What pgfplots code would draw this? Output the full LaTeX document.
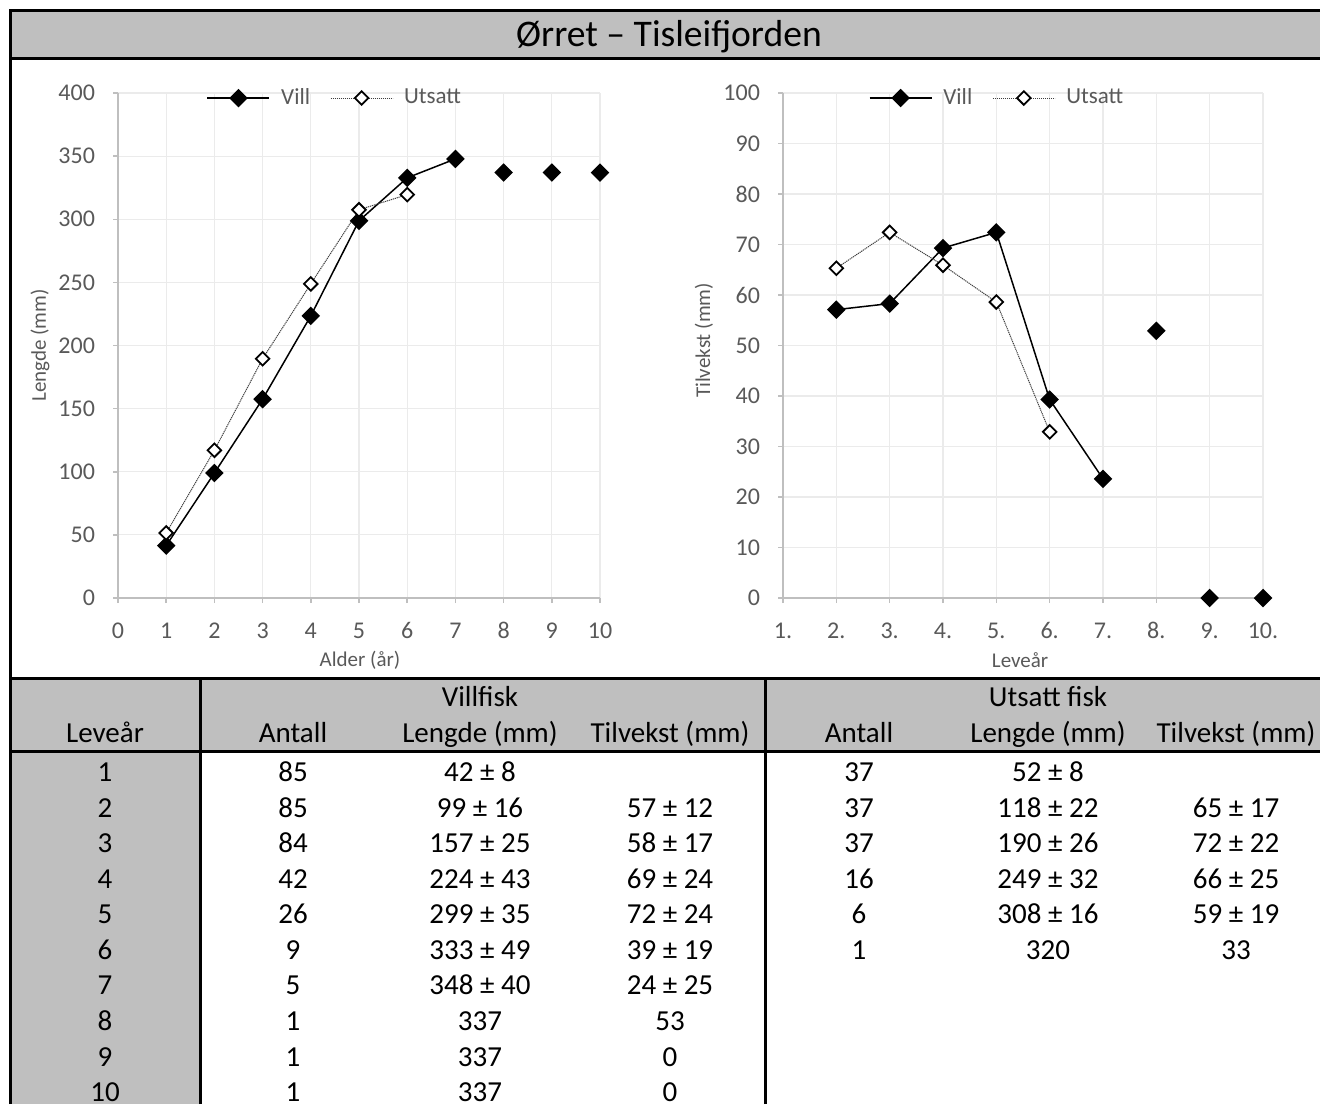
\documentclass[border=0pt]{standalone}
\usepackage{fontspec}
\setmainfont{Carlito}
\usepackage{pgfplots}
\pgfplotsset{compat=1.18}
\definecolor{hdr}{HTML}{BFBFBF}
\definecolor{tickc}{HTML}{595959}
\definecolor{axc}{HTML}{BFBFBF}
\definecolor{gridc}{HTML}{EBEBEB}
\pgfplotsset{
 fishax/.style={
  scale only axis, anchor=south west, clip=false,
  axis x line*=bottom, axis y line*=left,
  axis line style={axc, line width=0.75pt},
  tick align=outside, major tick length=2.5pt,
  tick style={axc, line width=0.75pt},
  grid=major, grid style={gridc, line width=0.6pt},
  ticklabel style={font=\fontsize{12}{14}\selectfont, text=tickc},
  xticklabel style={text height=8pt, text depth=0pt, yshift=-6pt},
  yticklabel style={xshift=-5.5pt},
  /pgf/number format/assume math mode=true,
  label style={font=\fontsize{10.5}{12}\selectfont, text=tickc},
  legend style={draw=none, fill=none, font=\fontsize{11.5}{13}\selectfont, text=tickc, legend columns=2,
    /tikz/every odd column/.append style={column sep=3.5pt},
    /tikz/every even column/.append style={column sep=8pt}},
  legend image code/.code={\draw[mark repeat=2,mark phase=2,##1] plot coordinates {(0pt,0pt) (15.5pt,0pt) (31pt,0pt)};},
 },
 vill/.style={black, line width=0.75pt, mark=square*, mark size=2.9pt, mark options={rotate=45, solid, fill=black}},
 utsatt/.style={black!75, line width=0.5pt, dash pattern=on 0.6pt off 0.4pt, mark=square*, mark size=2.4pt, mark options={rotate=45, solid, fill=white, draw=black, line width=0.9pt}},
}
\newcommand{\tf}{\fontsize{14.5}{17}\selectfont}
\tikzset{tc/.style={font=\tf, anchor=base, inner sep=0pt}}
\begin{document}
\begin{tikzpicture}[x=0.5pt,y=0.5pt]
\path[use as bounding box] (0,0) rectangle (1320,1104);
% backgrounds
\fill[hdr] (10,1045) rectangle (1320,1093);
\fill[hdr] (10,353) rectangle (1320,426);
\fill[hdr] (10,0) rectangle (200,353);
% title
\node[font=\fontsize{18.8}{22}\selectfont, anchor=base, inner sep=0pt] at (669,1057) {Ørret – Tisleifjorden};

% left chart
\begin{axis}[fishax, at={(59pt,253pt)}, width=241pt, height=252.5pt,
  xmin=0, xmax=10, ymin=0, ymax=400,
  xtick={0,1,...,10}, ytick={0,50,...,400},
  xlabel={Alder (år)}, ylabel={Lengde (mm)},
  xlabel style={at={(axis description cs:0.502,-0.123)}, anchor=center},
  ylabel style={at={(axis description cs:-0.162,0.5)}, anchor=center},
  legend style={at={(0.452,0.99)}, anchor=center}]
\addplot[vill] coordinates {(1,41.5) (2,99) (3,157.5) (4,223.5) (5,298.8) (6,332.8) (7,347.8)};
\addlegendentry{Vill}
\addplot[utsatt] coordinates {(1,51.5) (2,117) (3,189.5) (4,248.8) (5,307.5) (6,319.5)};
\addlegendentry{Utsatt}
\addplot[vill, only marks, forget plot] coordinates {(8,337) (9,337) (10,337)};
\end{axis}

% right chart
\begin{axis}[fishax, at={(391.5pt,253pt)}, width=240pt, height=252.5pt,
  xmin=1, xmax=10, ymin=0, ymax=100,
  xtick={1,2,...,10}, xticklabels={1.,2.,3.,4.,5.,6.,7.,8.,9.,10.},
  ytick={0,10,...,100},
  xlabel={Leveår}, ylabel={Tilvekst (mm)},
  xlabel style={at={(axis description cs:0.494,-0.123)}, anchor=center},
  ylabel style={at={(axis description cs:-0.165,0.51)}, anchor=center},
  legend style={at={(0.448,0.99)}, anchor=center}]
\addplot[vill] coordinates {(2,57.1) (3,58.3) (4,69.3) (5,72.4) (6,39.3) (7,23.6)};
\addlegendentry{Vill}
\addplot[utsatt] coordinates {(2,65.3) (3,72.4) (4,65.9) (5,58.6) (6,32.9)};
\addlegendentry{Utsatt}
\addplot[vill, only marks, forget plot] coordinates {(8,52.9) (9,0) (10,0)};
\end{axis}

% frame lines
\draw[line width=1.5pt] (10,0) -- (10,1093) -- (1320,1093);
\draw[line width=1.5pt] (10,1045) -- (1320,1045);
\draw[line width=1.5pt] (10,426) -- (1320,426);
\draw[line width=1.5pt] (10,353) -- (1320,353);
\draw[line width=1.5pt] (200,0) -- (200,426);
\draw[line width=1.5pt] (765,0) -- (765,426);

% table header
\node[tc] at (480,398) {Villfisk};
\node[tc] at (1048,398) {Utsatt fisk};
\foreach \x/\t in {105/Leveår, 293/Antall, 480/Lengde (mm), 670/Tilvekst (mm), 859/Antall, 1048/Lengde (mm), 1236/Tilvekst (mm)}
  \node[tc] at (\x,362) {\t};
% table rows
\foreach \y/\a/\b/\c/\d/\e/\f/\g in {
 323/1/85/42 ± 8//37/52 ± 8/,
 287/2/85/99 ± 16/57 ± 12/37/118 ± 22/65 ± 17,
 252/3/84/157 ± 25/58 ± 17/37/190 ± 26/72 ± 22,
 216/4/42/224 ± 43/69 ± 24/16/249 ± 32/66 ± 25,
 181/5/26/299 ± 35/72 ± 24/6/308 ± 16/59 ± 19,
 145/6/9/333 ± 49/39 ± 19/1/320/33,
 110/7/5/348 ± 40/24 ± 25///,
 74/8/1/337/53///,
 38/9/1/337/0///,
 3/10/1/337/0///}{
  \node[tc] at (105,\y) {\a};
  \node[tc] at (293,\y) {\b};
  \node[tc] at (480,\y) {\c};
  \node[tc] at (670,\y) {\d};
  \node[tc] at (859,\y) {\e};
  \node[tc] at (1048,\y) {\f};
  \node[tc] at (1236,\y) {\g};
}
\end{tikzpicture}
\end{document}
